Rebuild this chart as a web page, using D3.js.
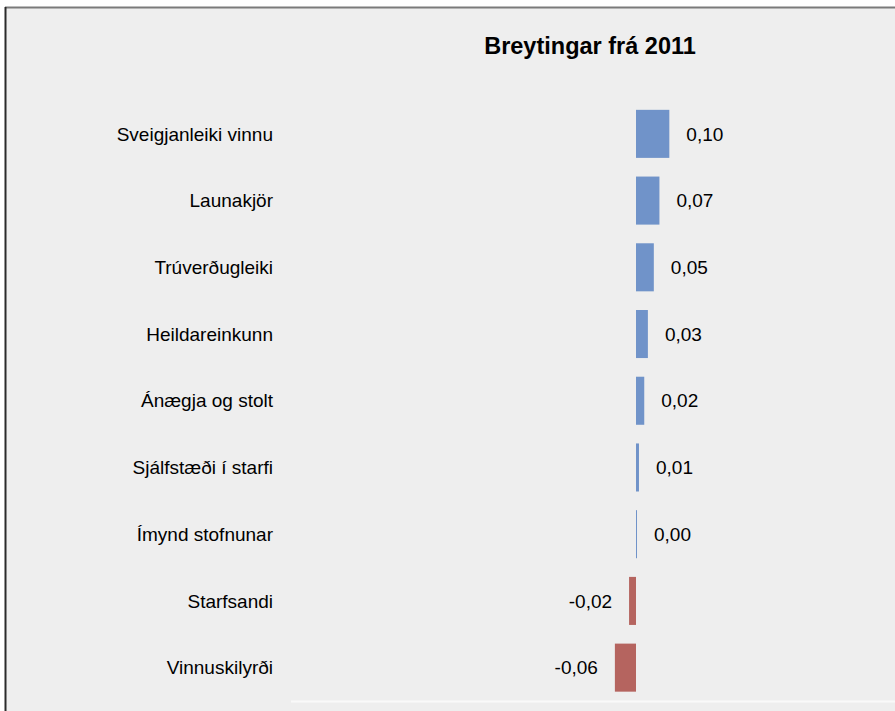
<!DOCTYPE html>
<html>
<head>
<meta charset="utf-8">
<script src="https://cdn.jsdelivr.net/npm/d3@7"></script>
<style>
  body { margin: 0; background: #fff; }
  text { font-family: "Liberation Sans", Arial, sans-serif; fill: #000; }
</style>
</head>
<body>
<div id="chart"></div>
<script>
// categories and the change since 2011
var categories = ["Sveigjanleiki vinnu", "Launakjör", "Trúverðugleiki", "Heildareinkunn",
  "Ánægja og stolt", "Sjálfstæði í starfi", "Ímynd stofnunar", "Starfsandi", "Vinnuskilyrði"];
var values = [0.101, 0.071, 0.054, 0.036, 0.025, 0.009, 0.003, -0.021, -0.064];
var labels = ["0,10", "0,07", "0,05", "0,03", "0,02", "0,01", "0,00", "-0,02", "-0,06"];
var title = "Breytingar frá 2011";

var width = 895, height = 711;

var svg = d3.select("#chart")
  .append("svg")
  .attr("width", width)
  .attr("height", height);

// panel background + frame
svg.append("rect")
  .attr("x", 5).attr("y", 7)
  .attr("width", width - 5).attr("height", height - 7)
  .attr("fill", "#eeeeee");
svg.append("line")
  .attr("x1", 5).attr("x2", width).attr("y1", 7.5).attr("y2", 7.5)
  .attr("stroke", "#7a7a7a").attr("stroke-width", 2);
svg.append("line")
  .attr("x1", 5.5).attr("x2", 5.5).attr("y1", 7).attr("y2", height)
  .attr("stroke", "#2a2a2a").attr("stroke-width", 2);

svg.append("text")
  .attr("x", 590).attr("y", 54)
  .attr("text-anchor", "middle")
  .style("font-size", "23.5px")
  .style("font-weight", "bold")
  .text(title);

// zero at x=636, 0.10 -> ~33px
var x = d3.scaleLinear().domain([-0.1, 0.2]).range([603, 702]);
var y = d3.scaleBand().domain(categories).range([100.5, 701]).paddingInner(0.28).paddingOuter(0.14);

// baseline along the bottom
svg.append("line")
  .attr("x1", 291).attr("x2", width)
  .attr("y1", 701.5).attr("y2", 701.5)
  .attr("stroke", "#f9f9f9").attr("stroke-width", 2);

var rows = categories.map(function (c, i) {
  return { cat: c, v: values[i], lab: labels[i] };
});

svg.selectAll(".bar")
  .data(rows)
  .enter().append("rect")
  .attr("class", "bar")
  .attr("x", function (d) { return x(Math.min(0, d.v)); })
  .attr("y", function (d) { return y(d.cat); })
  .attr("width", function (d) { return Math.max(1, Math.abs(x(d.v) - x(0))); })
  .attr("height", y.bandwidth())
  .attr("fill", function (d) { return d.v < 0 ? "#b5645f" : "#7093c9"; });

svg.selectAll(".cat")
  .data(rows)
  .enter().append("text")
  .attr("class", "cat")
  .attr("x", 273)
  .attr("y", function (d) { return y(d.cat) + y.bandwidth() / 2; })
  .attr("dy", "0.35em")
  .attr("text-anchor", "end")
  .style("font-size", "19px")
  .text(function (d) { return d.cat; });

svg.selectAll(".val")
  .data(rows)
  .enter().append("text")
  .attr("class", "val")
  .attr("x", function (d) {
    return d.v < 0 ? x(d.v) - 17 : Math.max(x(d.v), x(0) + 1) + 17;
  })
  .attr("y", function (d) { return y(d.cat) + y.bandwidth() / 2; })
  .attr("dy", "0.35em")
  .attr("text-anchor", function (d) { return d.v < 0 ? "end" : "start"; })
  .style("font-size", "19px")
  .text(function (d) { return d.lab; });
</script>
</body>
</html>
